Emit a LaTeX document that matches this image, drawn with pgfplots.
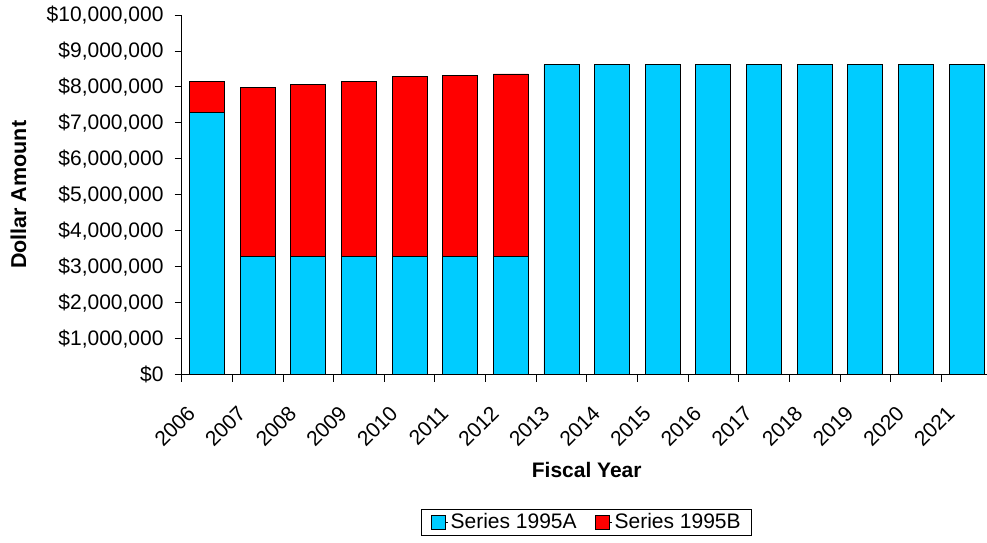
\documentclass[border=0pt]{standalone}
\usepackage{pgfplots}
\pgfplotsset{compat=1.18}
\usepackage{fontspec}
\setmainfont{Liberation Sans}
\definecolor{serA}{HTML}{00CCFF}
\definecolor{serB}{HTML}{FF0000}
\begin{document}
\fontsize{21}{25}\selectfont
\begin{tikzpicture}
\useasboundingbox (0,0) rectangle (987pt,542pt);
\clip (0,0) rectangle (987pt,542pt);
\begin{axis}[
  at={(181.7pt,167.3pt)}, anchor=south west,
  scale only axis, width=810.2pt, height=359.7pt,
  ybar stacked, bar width=35pt,
  xmin=-0.5, xmax=15.5, ymin=0, ymax=10000000,
  axis lines*=left,
  axis line style={black, line width=0.9pt},
  tick align=outside,
  tick style={black, line width=0.9pt},
  major tick length=7pt,
  xtick={-0.5,0.5,...,15.5},
  xticklabels={},
  extra x ticks={0,...,15},
  extra x tick labels={2006,2007,2008,2009,2010,2011,2012,2013,2014,2015,2016,2017,2018,2019,2020,2021},
  extra x tick style={major tick length=0pt, xticklabel style={xshift=-10.7pt, yshift=-30pt, rotate=45, anchor=east}},
  ytick={0,1000000,...,10000000},
  yticklabels={\$0,{\$1,000,000},{\$2,000,000},{\$3,000,000},{\$4,000,000},{\$5,000,000},{\$6,000,000},{\$7,000,000},{\$8,000,000},{\$9,000,000},{\$10,000,000}},
  yticklabel style={xshift=-4pt},
  scaled y ticks=false,
  /pgf/number format/assume math mode=true,
  ticklabel style={font=\fontsize{21}{25}\selectfont},
  xlabel={\textbf{Fiscal Year}},
  ylabel={\textbf{Dollar Amount}},
  xlabel style={at={(axis description cs:0.4999,-0.265)}, anchor=center, font=\fontsize{21}{25}\selectfont},
  ylabel style={at={(axis description cs:-0.2014,0.5)}, anchor=center, font=\fontsize{21.5}{25}\selectfont},
  legend columns=2,
  legend style={at={(axis description cs:0.4999,-0.411)}, anchor=center, draw=black, line width=0.9pt,
    font=\fontsize{21}{25}\selectfont, inner xsep=9pt, inner ysep=2pt,
    /tikz/every even column/.append style={column sep=16pt}},
  clip=false,
]
\addplot[fill=serA, draw=black, line width=0.9pt,
  legend image code/.code={\path (0pt,0pt) -- (17pt,0pt); \draw[fill=serA, draw=black, line width=0.9pt] (0pt,-7pt) rectangle (14pt,7pt);}]
  coordinates {(0,7280000) (1,3280000) (2,3280000) (3,3280000) (4,3280000) (5,3280000) (6,3280000)
  (7,8620000) (8,8620000) (9,8620000) (10,8620000) (11,8620000) (12,8620000) (13,8620000) (14,8620000) (15,8620000)};
\addplot[fill=serB, draw=black, line width=0.9pt,
  legend image code/.code={\path (0pt,0pt) -- (17pt,0pt); \draw[fill=serB, draw=black, line width=0.9pt] (0pt,-7pt) rectangle (14pt,7pt);}]
  coordinates {(0,860000) (1,4710000) (2,4780000) (3,4860000) (4,5020000) (5,5050000) (6,5080000)
  (7,0) (8,0) (9,0) (10,0) (11,0) (12,0) (13,0) (14,0) (15,0)};
\legend{Series 1995A,Series 1995B}
\end{axis}
\end{tikzpicture}
\end{document}
